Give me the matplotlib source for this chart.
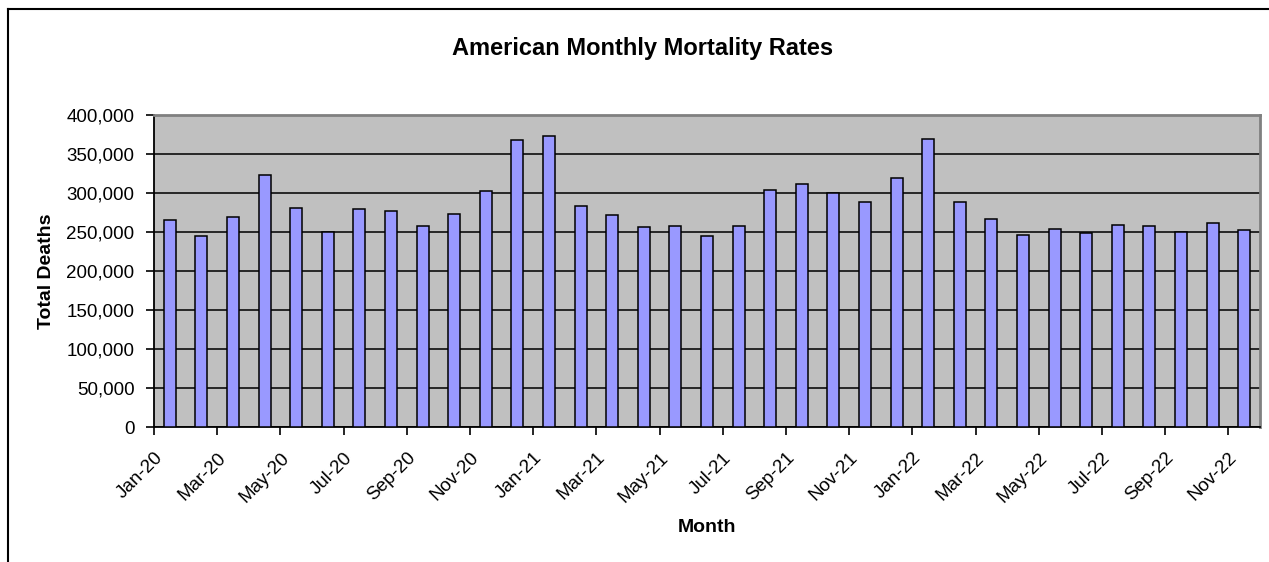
import numpy as np
import matplotlib
matplotlib.use("Agg")
import matplotlib.pyplot as plt
from matplotlib.lines import Line2D
from matplotlib.ticker import FuncFormatter

plt.rcParams['font.family'] = ['Liberation Sans', 'DejaVu Sans']

# monthly totals, Jan-20 .. Nov-22
months = ['Jan-20', 'Feb-20', 'Mar-20', 'Apr-20', 'May-20', 'Jun-20',
          'Jul-20', 'Aug-20', 'Sep-20', 'Oct-20', 'Nov-20', 'Dec-20',
          'Jan-21', 'Feb-21', 'Mar-21', 'Apr-21', 'May-21', 'Jun-21',
          'Jul-21', 'Aug-21', 'Sep-21', 'Oct-21', 'Nov-21', 'Dec-21',
          'Jan-22', 'Feb-22', 'Mar-22', 'Apr-22', 'May-22', 'Jun-22',
          'Jul-22', 'Aug-22', 'Sep-22', 'Oct-22', 'Nov-22']
deaths = [265300, 244700, 269500, 323000, 281000, 249800,
          279300, 277200, 258000, 273000, 302500, 367500,
          373500, 282700, 271200, 255800, 257500, 244300,
          257500, 304200, 311900, 299400, 288300, 319100,
          369600, 288300, 267300, 246000, 253700, 248600,
          259600, 257500, 249800, 261400, 252000]
y_ticks = [0, 50000, 100000, 150000, 200000, 250000, 300000, 350000, 400000]

fig = plt.figure(figsize=(12.69, 5.62), dpi=100)
ax = fig.add_axes([154 / 1269, 1 - 427 / 562, (1260 - 154) / 1269, (427 - 115) / 562])

x = np.arange(len(deaths))
ax.set_facecolor('#C0C0C0')
ax.bar(x, deaths, width=0.38, color='#9999FF', edgecolor='black', linewidth=1.1, zorder=3)

ax.set_xlim(-0.5, len(deaths) - 0.5)
ax.set_ylim(0, 400000)
ax.set_yticks(y_ticks)
ax.yaxis.set_major_formatter(FuncFormatter(lambda v, p: f'{int(v):,}'))
ax.grid(axis='y', color='#1a1a1a', linewidth=1.3, zorder=1)
ax.set_axisbelow(True)

tick_pos = x[::2] - 0.5
ax.set_xticks(tick_pos)
ax.set_xticklabels(months[::2], rotation=45, ha='right', va='top',
                   rotation_mode='anchor', fontsize=13.5)
ax.tick_params(axis='x', direction='out', length=6, width=1.2, pad=10)
ax.tick_params(axis='y', direction='out', length=6, width=1.2, pad=8, labelsize=13.5)

for s in ['top', 'right']:
    ax.spines[s].set_color('#808080')
    ax.spines[s].set_linewidth(2)
for s in ['left', 'bottom']:
    ax.spines[s].set_color('black')
    ax.spines[s].set_linewidth(1.3)

ax.set_ylabel('Total Deaths', fontsize=14, fontweight='bold', labelpad=8)
fig.text((154 + 1260) / 2 / 1269, 1 - 527 / 562, 'Month', fontsize=14,
         fontweight='bold', ha='center', va='center')
fig.text(643 / 1269, 1 - 48 / 562, 'American Monthly Mortality Rates',
         fontsize=17, fontweight='bold', ha='center', va='center')

# chart border (left and top visible)
fig.add_artist(Line2D([8 / 1269, 8 / 1269], [0, 1 - 9 / 562], color='black', lw=1.5))
fig.add_artist(Line2D([8 / 1269, 1], [1 - 9 / 562, 1 - 9 / 562], color='black', lw=1.5))

fig.savefig('out.png', dpi=100)
